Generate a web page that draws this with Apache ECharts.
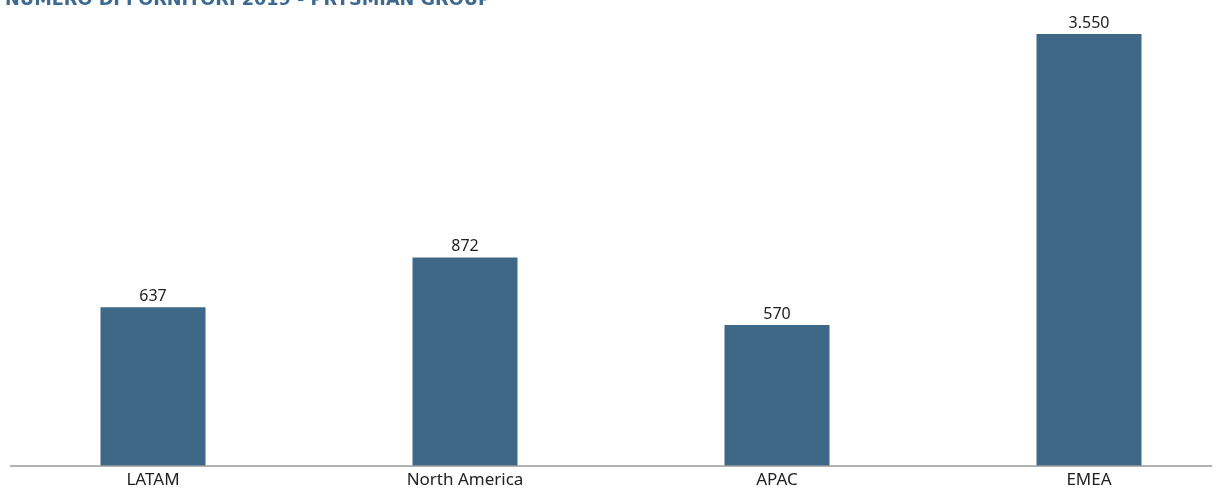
<!DOCTYPE html>
<html><head><meta charset="utf-8">
<script src="https://cdn.jsdelivr.net/npm/echarts@6/dist/echarts.min.js"></script>
<style>html,body{margin:0;padding:0;background:#fff}#c{width:1223px;height:493px}</style>
</head><body><div id="c"></div>
<script>
const categories = ['LATAM', 'North America', 'APAC', 'EMEA'];
const values = [637, 872, 570, 3550];
const valueLabels = ['637', '872', '570', '3.550'];
const titleText = 'NUMERO DI FORNITORI 2019 - PRYSMIAN GROUP';

const chart = echarts.init(document.getElementById('c'));
chart.setOption({
  animation: false,
  title: {
    text: titleText, left: 0, top: -14,
    textStyle: { fontFamily: 'DejaVu Sans', fontWeight: 'bold', fontSize: 17.7, color: '#3d6a8e' }
  },
  grid: { left: -3, width: 1248, top: 34, bottom: 27, containLabel: false, outerBoundsMode: 'none' },
  xAxis: {
    type: 'category', data: categories,
    axisLine: { show: false }, axisTick: { show: false },
    axisLabel: { fontFamily: 'Noto Sans', fontSize: 17, color: '#222', margin: 6 }
  },
  yAxis: {
    type: 'log', logBase: 10, min: 235, max: 3550,
    show: false, splitLine: { show: false }
  },
  series: [{
    type: 'bar', data: values, barWidth: 105, clip: true,
    itemStyle: { color: '#3e6788' },
    label: {
      show: true, position: 'top', distance: 3,
      fontFamily: 'Noto Sans', fontSize: 16, color: '#222',
      formatter: p => valueLabels[p.dataIndex]
    }
  }],
  graphic: [{
    type: 'line', shape: { x1: 10, y1: 466, x2: 1212, y2: 466 },
    style: { stroke: '#999', lineWidth: 1.5 }, z: 10
  }]
});
</script></body></html>
